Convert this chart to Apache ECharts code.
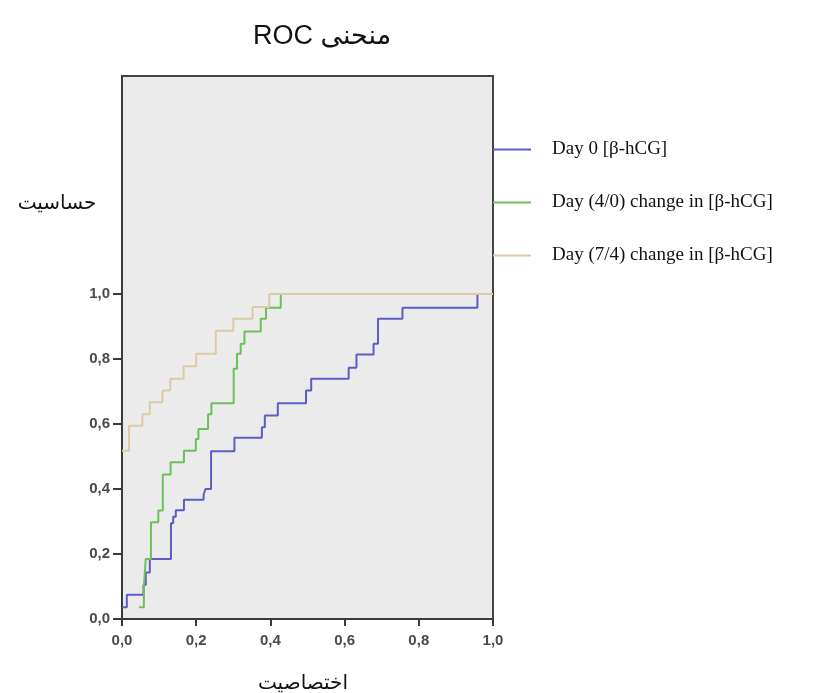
<!DOCTYPE html>
<html>
<head>
<meta charset="utf-8">
<script src="https://cdn.jsdelivr.net/npm/echarts@6/dist/echarts.min.js"></script>
<style>
  html, body { margin: 0; padding: 0; background: #fff; }
  #chart { width: 833px; height: 693px; }
</style>
</head>
<body>
<div id="chart"></div>
<script>
// ROC curves (x = 1 - specificity, y = sensitivity)
const tickValues = [0, 0.2, 0.4, 0.6, 0.8, 1.0];

const seriesNames = ["Day 0 [β-hCG]", "Day (4/0) change in [β-hCG]", "Day (7/4) change in [β-hCG]"];
const seriesColors = ["#5c5cc4", "#6cc05c", "#dccaa6"];

const day0Fpr = [0, 0.013, 0.058, 0.064, 0.075, 0.132, 0.138, 0.145, 0.167, 0.22, 0.225, 0.24, 0.303, 0.377, 0.385, 0.42, 0.496, 0.51, 0.611, 0.632, 0.678, 0.69, 0.756, 0.958, 1.0];
const day0Tpr = [0.036, 0.075, 0.105, 0.143, 0.185, 0.295, 0.315, 0.335, 0.367, 0.383, 0.4, 0.516, 0.558, 0.59, 0.626, 0.664, 0.703, 0.739, 0.773, 0.814, 0.847, 0.924, 0.958, 1.0, 1.0];

const day40Fpr = [0.046, 0.059, 0.064, 0.078, 0.098, 0.11, 0.131, 0.167, 0.199, 0.206, 0.232, 0.241, 0.301, 0.31, 0.32, 0.33, 0.374, 0.388, 0.428, 1.0];
const day40Tpr = [0.036, 0.1, 0.185, 0.298, 0.334, 0.445, 0.482, 0.518, 0.554, 0.585, 0.63, 0.664, 0.77, 0.816, 0.847, 0.885, 0.924, 0.958, 1.0, 1.0];

const day74Fpr = [0, 0.019, 0.055, 0.075, 0.109, 0.13, 0.166, 0.2, 0.253, 0.3, 0.352, 0.397, 1.0];
const day74Tpr = [0.518, 0.595, 0.63, 0.667, 0.703, 0.739, 0.778, 0.816, 0.887, 0.924, 0.96, 1.0, 1.0];

const curves = [
  [day0Fpr, day0Tpr],
  [day40Fpr, day40Tpr],
  [day74Fpr, day74Tpr],
];

const fmt = (v) => v.toFixed(1).replace(".", ",");
const axisColor = "#3a3a3a";
const labelStyle = { color: "#4a4a4a", fontSize: 15, fontWeight: "bold", fontFamily: "Liberation Sans, Arial, sans-serif" };

const chart = echarts.init(document.getElementById("chart"));
chart.setOption({
  animation: false,
  backgroundColor: "#fff",
  grid: {
    left: 122, right: 340, top: 76, bottom: 74,
    show: true, backgroundColor: "#ebebeb", borderColor: "#444", borderWidth: 2,
  },
  legend: {
    orient: "vertical",
    left: 488, top: 134,
    icon: "rect",
    itemWidth: 38, itemHeight: 2,
    itemGap: 32,
    data: seriesNames,
    textStyle: { fontFamily: "Liberation Serif, Times New Roman, serif", fontSize: 19, color: "#111", lineHeight: 21, padding: [0, 0, 0, 16] },
  },
  xAxis: {
    type: "value", min: 0, max: 1,
    axisLine: { show: true, lineStyle: { color: axisColor, width: 2 } },
    axisTick: { show: true, customValues: tickValues, length: 7, lineStyle: { color: axisColor, width: 2 } },
    axisLabel: { customValues: tickValues, formatter: fmt, margin: 14, ...labelStyle },
    splitLine: { show: false },
  },
  yAxis: {
    type: "value", min: 0, max: 1.671,
    axisLine: { show: true, lineStyle: { color: axisColor, width: 2 } },
    axisTick: { show: true, customValues: tickValues, length: 9, lineStyle: { color: axisColor, width: 2 } },
    axisLabel: { customValues: tickValues, formatter: fmt, margin: 12, ...labelStyle },
    splitLine: { show: false },
  },
  graphic: [
    { type: "text", x: 322, y: 37, style: { text: "\u202Bمنحنی ROC\u202C", font: "27px Liberation Sans, DejaVu Sans, sans-serif", fill: "#111", textAlign: "center", textVerticalAlign: "middle" } },
    { type: "text", x: 57, y: 204, style: { text: "حساسیت", font: "20px DejaVu Sans, sans-serif", fill: "#111", textAlign: "center", textVerticalAlign: "middle" } },
    { type: "text", x: 303, y: 684, style: { text: "اختصاصیت", font: "20px DejaVu Sans, sans-serif", fill: "#111", textAlign: "center", textVerticalAlign: "middle" } },
  ],
  series: curves.map(([xs, ys], i) => ({
    name: seriesNames[i],
    type: "line",
    step: "end",
    showSymbol: false,
    color: seriesColors[i],
    lineStyle: { width: 2, color: seriesColors[i] },
    data: xs.map((x, j) => [x, ys[j]]),
  })),
});
</script>
</body>
</html>
